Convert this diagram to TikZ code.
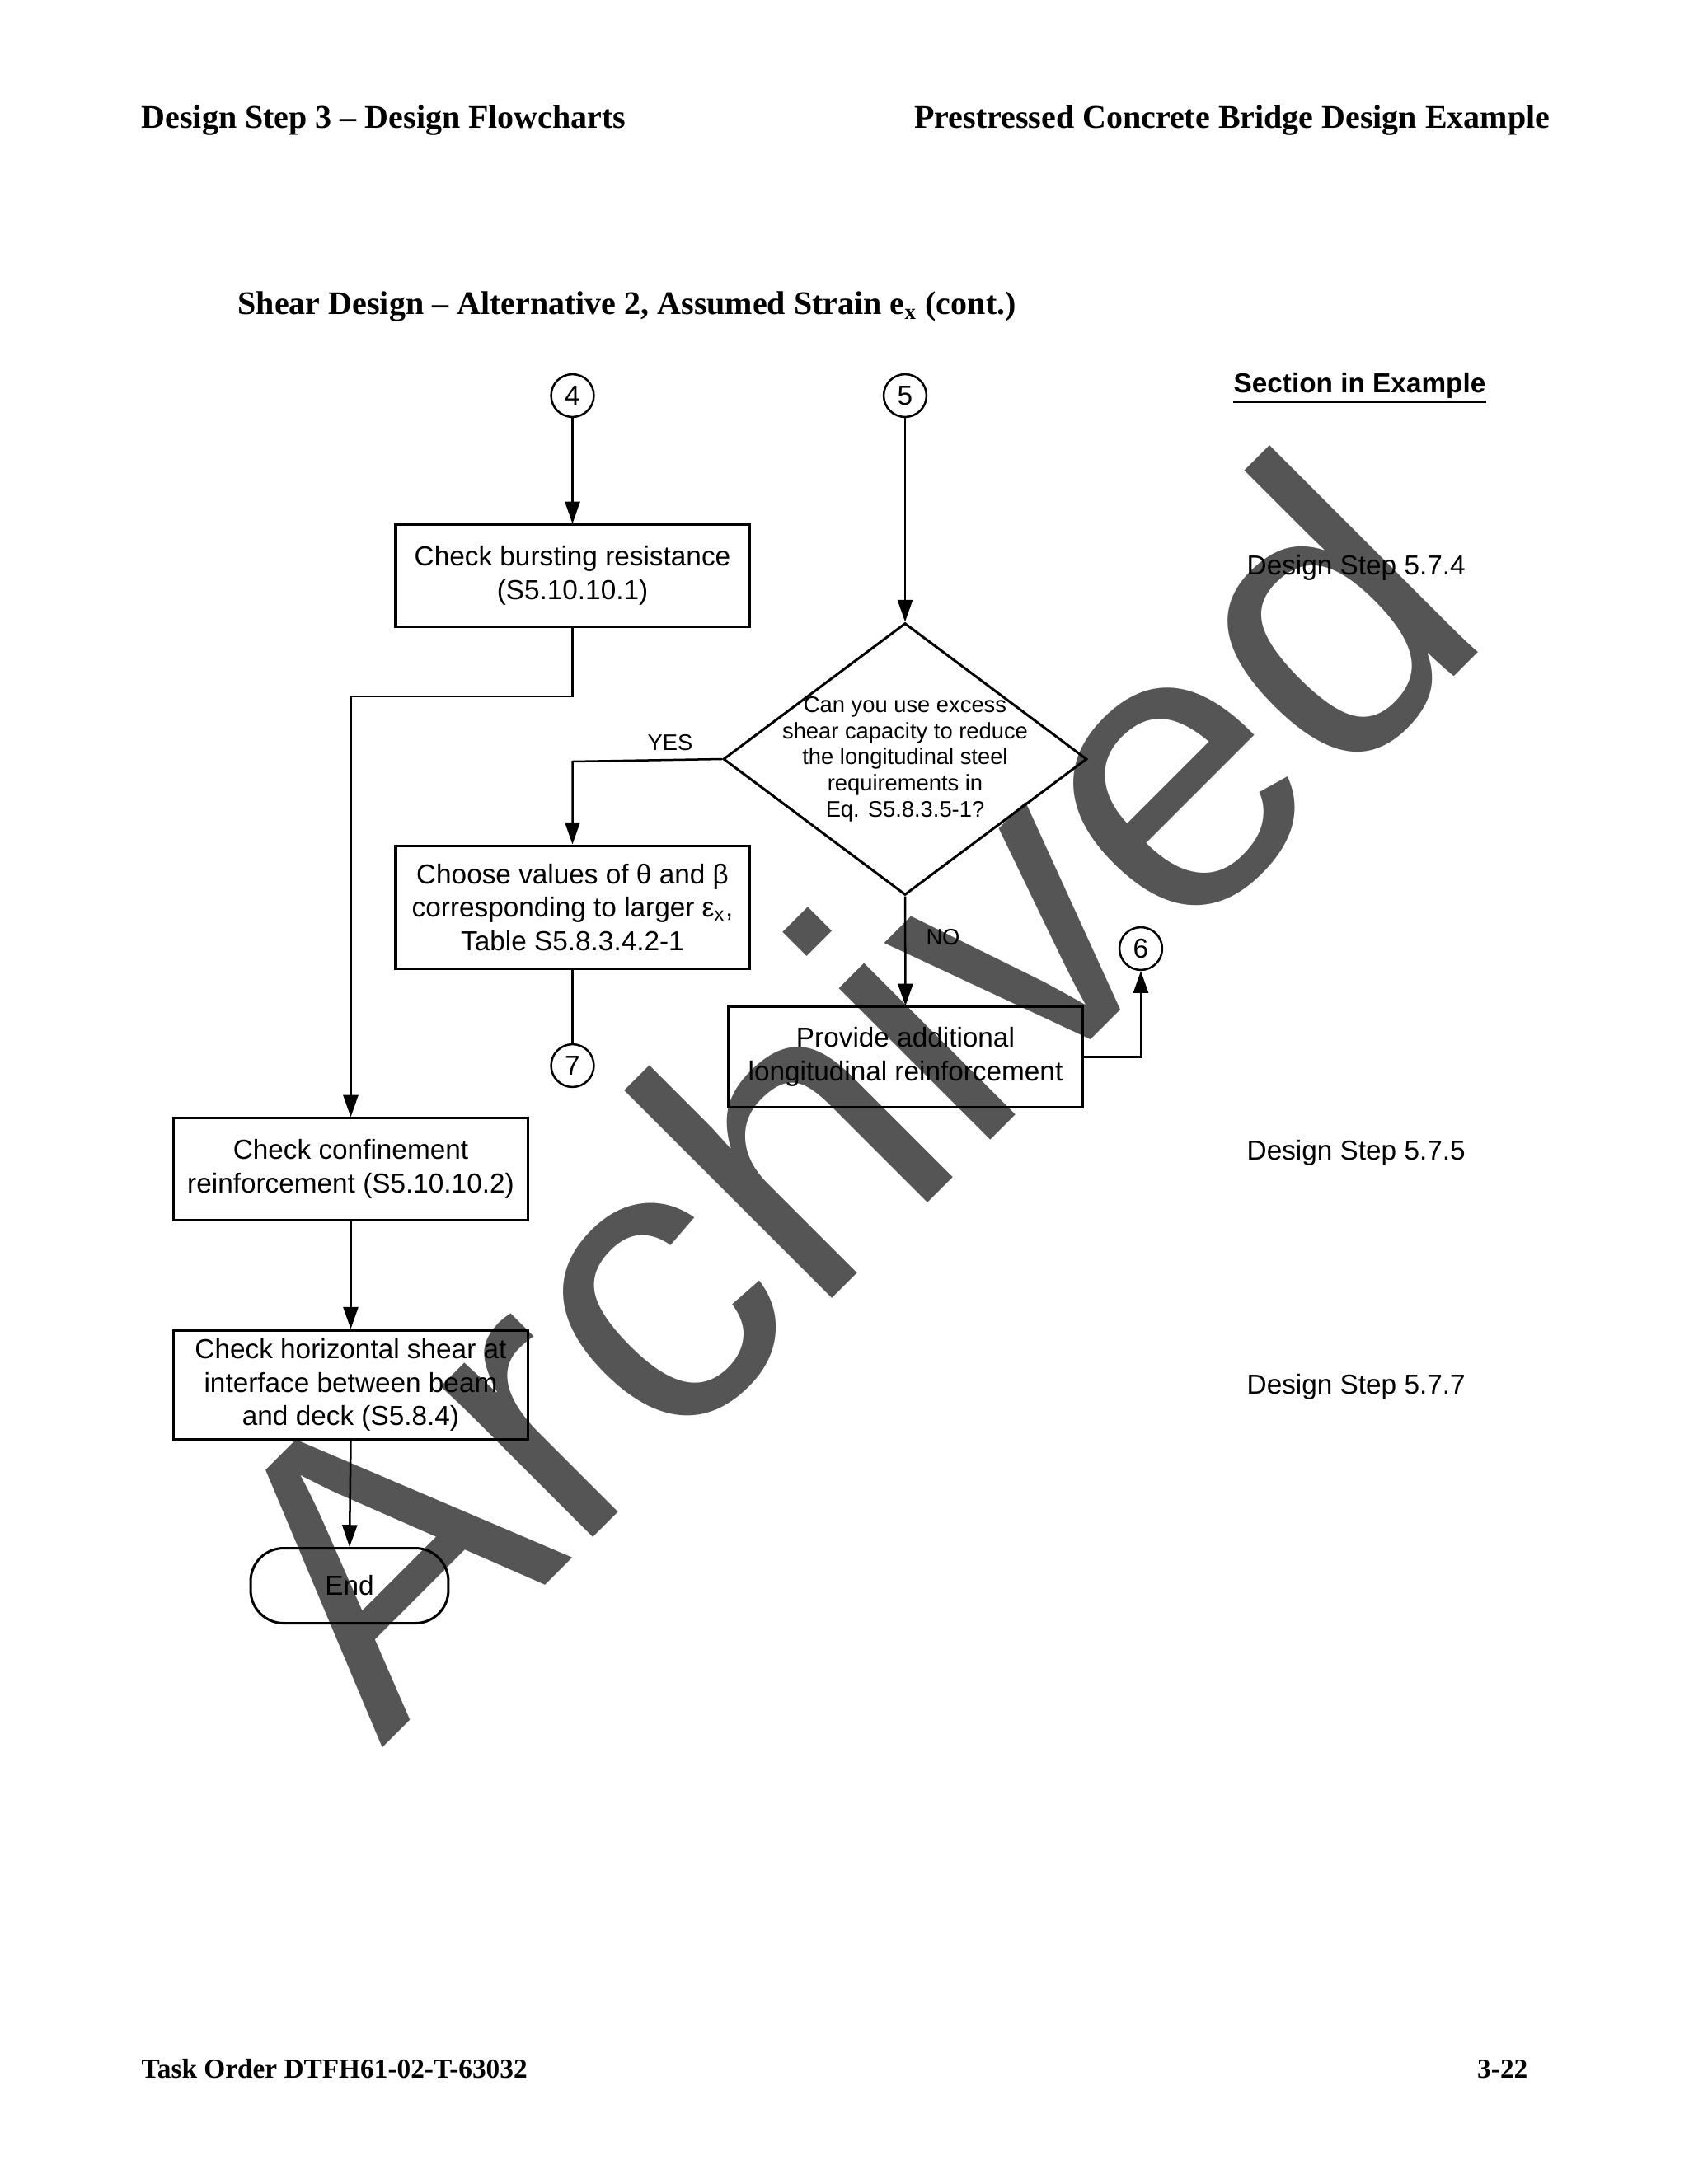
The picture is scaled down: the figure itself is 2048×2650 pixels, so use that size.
\documentclass[tikz,border=0pt]{standalone}
\usepackage{fontspec}
\setmainfont{Liberation Serif}
\newfontfamily\arialf{Liberation Sans}
\usetikzlibrary{arrows.meta,shapes.geometric}
\definecolor{wmgray}{RGB}{85,85,85}
\begin{document}
\begin{tikzpicture}[x=0.29883bp, y=-0.29883bp,
  box/.style={draw, line width=0.9bp, minimum width=128.2bp, inner sep=2bp, align=center, font=\arialf\fontsize{10}{12.25}\selectfont},
  conn/.style={draw, circle, line width=0.75bp, minimum size=15.5bp, inner sep=0pt, font=\arialf\fontsize{10}{12}\selectfont},
  arr/.style={-{Triangle[length=8bp,width=5.4bp]}, line width=0.75bp},
  plain/.style={line width=0.75bp},
  side/.style={anchor=base west, inner sep=0pt, font=\arialf\fontsize{10}{12}\selectfont},
  small/.style={inner sep=0pt, font=\arialf\fontsize{8.2}{9.5}\selectfont},
  hdr/.style={inner sep=0pt, font=\bfseries\fontsize{12}{14}\selectfont},
  ftr/.style={inner sep=0pt, font=\bfseries\fontsize{10}{12}\selectfont},
]
\useasboundingbox[fill=white] (0,0) rectangle (2048,2650);

% watermark
\node[rotate=45, anchor=base west, inner sep=0pt, text=wmgray,
      font=\arialf\fontsize{147.5}{150}\selectfont] (wm) at (463,2122) {Archived};

% header / footer
\node[hdr, anchor=base west] (h1) at (171,155) {Design Step 3 -- Design Flowcharts};
\node[hdr, anchor=base east] (h2) at (1881,155) {Prestressed Concrete Bridge Design Example};
\node[hdr, anchor=base west] (title) at (288,381) {Shear Design -- Alternative 2, Assumed Strain e\textsubscript{x} (cont.)};
\node[ftr, anchor=base west] (f1) at (171,2521) {Task Order DTFH61-02-T-63032};
\node[ftr, anchor=base east] (f2) at (1854,2521) {3-22};

% section column
\node[anchor=base west, inner sep=0pt, font=\arialf\bfseries\fontsize{10}{12}\selectfont] (sec) at (1496,476) {Section in Example};
\draw[line width=0.9bp] ([yshift=-3.3bp]sec.base west) -- ([yshift=-3.3bp]sec.base east);
\node[side] (ds4) at (1512,697) {Design Step 5.7.4};
\node[side] (ds5) at (1512,1407) {Design Step 5.7.5};
\node[side] (ds7) at (1512,1691) {Design Step 5.7.7};

% connectors (off-page)
\node[conn] (c4) at (694.5,480) {4};
\node[conn] (c5) at (1098,480) {5};
\node[conn] (c6) at (1384,1151) {6};
\node[conn] (c7) at (694.5,1293) {7};

% boxes
\node[box, minimum height=36.8bp] (burst) at (694.5,698.5) {Check bursting resistance\\(S5.10.10.1)};
\node[box, minimum height=44.8bp] (choose) at (694.5,1101) {Choose values of θ and β\\corresponding to larger ε\textsubscript{x},\\Table S5.8.3.4.2-1};
\node[box, minimum height=36.2bp] (provide) at (1098.5,1282.5) {Provide additional\\longitudinal reinforcement};
\node[box, minimum height=36.8bp] (confine) at (425.5,1418.5) {Check confinement\\reinforcement (S5.10.10.2)};
\node[box, minimum height=39.7bp] (shear) at (425.5,1680.5) {Check horizontal shear at\\interface between beam\\and deck (S5.8.4)};
\node[draw, line width=0.9bp, rounded corners=12bp, minimum width=71.7bp, minimum height=27.2bp, inner sep=0pt, font=\arialf\fontsize{10}{12}\selectfont] (endn) at (424,1924) {End};

% decision
\node[diamond, draw, line width=0.9bp, minimum width=131.8bp, minimum height=98.6bp, inner sep=0pt] (dia) at (1098,921) {};
\node[small, align=center] (diat) at (dia.center) {Can you use excess\\shear capacity to reduce\\the longitudinal steel\\requirements in\\Eq. S5.8.3.5-1?};

% flow
\coordinate (b1) at (694.5,845);
\coordinate (yk) at (694.5,924);
\draw[arr] (c4.south) -- (burst.north);
\draw[arr] (c5.south) -- (dia.north);
\draw[arr] (burst.south) -- (b1) -| (confine.north);
\draw[arr] (dia.west) -- (yk) -- (choose.north);
\draw[plain] (choose.south) -- (c7.north);
\draw[arr] (dia.south) -- (provide.north);
\draw[arr] (provide.east) -| (c6.south);
\draw[arr] (confine.south) -- (shear.north);
\draw[arr] (shear.south) -- (endn.north);

\node[small] (yes) at (813,901) {YES};
\node[small] (no) at (1144,1137) {NO};
\end{tikzpicture}
\end{document}
